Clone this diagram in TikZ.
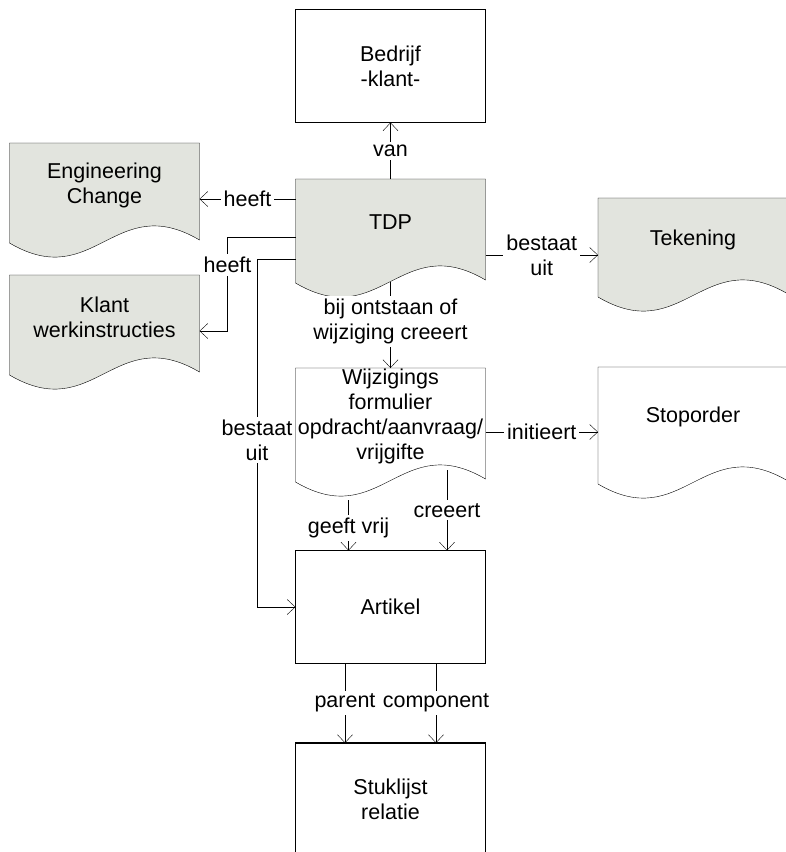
\documentclass[tikz,border=0pt]{standalone}
\usepackage{fontspec}
\setmainfont{Liberation Sans}
\usetikzlibrary{positioning}
\usetikzlibrary{calc}
\usetikzlibrary{arrows.meta}
\usetikzlibrary{backgrounds}

\definecolor{docgrijs}{RGB}{226,228,222}

\newcommand{\docvorm}[4]{%
	\begin{pgfonlayer}{background}
		\draw [#4] ($(#1.west) + (0, #2)$) -- ($(#1.east) + (0, #2)$) -- ($(#1.east) + (0, #2 - #3 + 3)$) .. controls ($(#1.east) + (-85, #2 - #3 + 53)$) and ($(#1.west) + (85, #2 - #3 - 50)$) .. ($(#1.west) + (0, #2 - #3)$) -- cycle;
	\end{pgfonlayer}}

\begin{document}
\begin{tikzpicture}[x = 1pt, y = 1pt, line width = 1.2pt, > = {Straight Barb[length = 8pt, width = 15pt]},
	font = \fontsize{21.5}{25}\selectfont,
	doc/.style = {rectangle, minimum width = 190pt, inner sep = 0pt, outer sep = 0pt, align = center},
	blok/.style = {rectangle, draw, minimum width = 190pt, minimum height = 113pt, outer sep = 0pt, align = center},
	docvul/.style = {fill = docgrijs},
	lbl/.style = {fill = white, inner sep = 3pt, align = center},
	pijl/.style = {->}]
					\useasboundingbox (0, 0) rectangle (786, -852);
					\node [blok] (bedrijf) at (390.5, -66) {Bedrijf\\-klant-};
					\node [doc] (tdp) at (390.5, -222) {TDP};
					\node [doc] (engchange) at (104.5, -185.5) {Engineering\\Change};
					\node [doc] (klantwi) at (104.5, -317.5) {Klant\\werkinstructies};
					\node [doc] (tekening) at (693, -240) {Tekening};
					\node [doc] (wijzform) at (390.5, -416) {Wijzigings\\formulier\\opdracht/aanvraag/\\vrijgifte};
					\node [doc] (stoporder) at (693, -417) {Stoporder};
					\node [blok] (artikel) at (390.5, -607) {Artikel};
					\node [blok] (stuklijst) at (390.5, -799.5) {Stuklijst\\relatie};
					\docvorm{tdp}{43}{104}{docvul}
					\docvorm{engchange}{42.5}{100}{docvul}
					\docvorm{klantwi}{42.5}{100}{docvul}
					\docvorm{tekening}{42}{99}{docvul}
					\docvorm{wijzform}{48}{114}{fill = white}
					\docvorm{stoporder}{50}{117}{fill = white}
					\draw [pijl] ([yshift = 43pt]tdp.center) -- (bedrijf.south) node [lbl, midway] (van) {van};
					\draw [pijl] ([yshift = 23pt]tdp.west) -- ([yshift = -13.5pt]engchange.east) node [lbl, midway] (heeft1) {heeft};
					\draw [pijl] ([yshift = -15pt]tdp.west) -| ([xshift = 28pt, yshift = -13.5pt]klantwi.east) node [lbl, pos = 0.65] (heeft2) {heeft} -- ([yshift = -13.5pt]klantwi.east);
					\draw [pijl] ([yshift = -37pt]tdp.west) -| ([xshift = -38.5pt]artikel.west) node [lbl, pos = 0.76] (bestaat1) {bestaat\\uit} -- (artikel.west);
					\draw [pijl] ([yshift = -33pt]tdp.east) -- ([yshift = -15pt]tekening.west) node [lbl, midway] (bestaat2) {bestaat\\uit};
					\draw [pijl] ([yshift = -60pt]tdp.center) -- ([yshift = 48pt]wijzform.center) node [lbl, pos = 0.46] (ontstaan) {bij ontstaan of\\wijziging creeert};
					\draw [pijl] ([yshift = -16pt]wijzform.east) -- ([yshift = -15pt]stoporder.west) node [lbl, midway] (initieert) {initieert};
					\draw [pijl] ([xshift = -42pt, yshift = -84pt]wijzform.center) -- ([xshift = -42pt]artikel.north) node [lbl, pos = 0.55] (geeftvrij) {geeft vrij};
					\draw [pijl] ([xshift = 56.5pt, yshift = -54pt]wijzform.center) -- ([xshift = 56.5pt]artikel.north) node [lbl, midway] (creeert) {creeert};
					\draw [pijl] ([xshift = -45.5pt]artikel.south) -- ([xshift = -45.5pt]stuklijst.north) node [lbl, midway] (parent) {parent};
					\draw [pijl] ([xshift = 45.5pt]artikel.south) -- ([xshift = 45.5pt]stuklijst.north) node [lbl, midway] (component) {component};
				\end{tikzpicture}
\end{document}
